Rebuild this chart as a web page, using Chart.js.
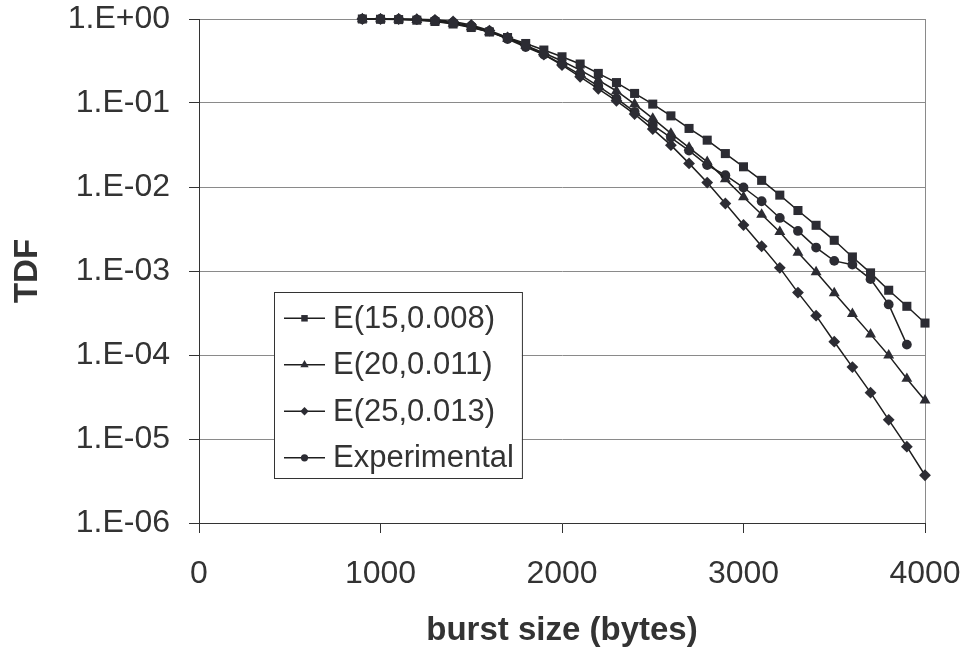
<!DOCTYPE html>
<html><head><meta charset="utf-8">
<script src="https://cdn.jsdelivr.net/npm/chart.js@4.4.1/dist/chart.umd.min.js"></script>
<style>html,body{margin:0;padding:0;background:#fff;}#wrap{width:963px;height:651px;}</style>
</head><body><div id="wrap"><canvas id="c" width="963" height="651"></canvas></div>
<script>
const burstSizes = [900,1000,1100,1200,1300,1400,1500,1600,1700,1800,1900,2000,2100,2200,2300,2400,2500,2600,2700,2800,2900,3000,3100,3200,3300,3400,3500,3600,3700,3800,3900,4000];
const seriesNames = ['E(15,0.008)','E(20,0.011)','E(25,0.013)','Experimental'];
const tdfE15 = [1.0,0.992,0.984,0.968,0.934,0.872,0.792,0.70,0.602,0.511,0.427,0.355,0.291,0.225,0.175,0.130,0.097,0.0703,0.0498,0.0361,0.025,0.0174,0.012,0.008,0.00525,0.0035,0.00232,0.00147,0.00095,0.00059,0.00038,0.00024];
const tdfE20 = [1.0,0.995,0.992,0.978,0.947,0.884,0.803,0.70,0.586,0.483,0.394,0.316,0.2466,0.1875,0.139,0.097,0.0655,0.0434,0.0294,0.0199,0.0124,0.0076,0.0047,0.00292,0.00166,0.00097,0.000547,0.00031,0.000176,0.0000989,0.0000522,0.0000288];
const tdfE25 = [1.0,1.0,1.0,0.995,0.978,0.934,0.848,0.729,0.602,0.483,0.3775,0.283,0.205,0.1476,0.1062,0.0738,0.0489,0.0315,0.0191,0.0113,0.00636,0.00353,0.00197,0.00109,0.000553,0.000294,0.000144,0.0000718,0.0000356,0.0000169,0.0000081,0.0000037];
const tdfExperimental = [1.0,1.0,0.995,0.984,0.96,0.908,0.825,0.719,0.578,0.464,0.3775,0.291,0.218,0.159,0.1135,0.0786,0.0546,0.0387,0.0271,0.0182,0.0138,0.00986,0.00677,0.00428,0.0030,0.0019,0.00132,0.00119,0.00080,0.00040,0.000133,null];
const yTickValues = [1,1e-1,1e-2,1e-3,1e-4,1e-5,1e-6];
const xTickStep = 1000;

const FONT = "'Liberation Sans', Arial, sans-serif";
const INK = '#333333';
const MARK = '#2c2c33';

function toPoints(vals){
  const out=[];
  vals.forEach((v,i)=>{ if(v!==null) out.push({x:burstSizes[i], y:v}); });
  return out;
}
function fmtExp(v){
  const e = Math.round(Math.log10(v));
  const s = e>=0?'+':'-';
  const a = Math.abs(e);
  return '1.E'+s+(a<10?'0':'')+a;
}
function zeroPad(s){ s.paddingTop=0; s.paddingBottom=0; s.paddingLeft=0; s.paddingRight=0; }
const styles = [
  {pointStyle:'rect', r:6.4, lr:4.6},
  {pointStyle:'triangle', r:6.3, lr:4.8},
  {pointStyle:'rectRot', r:5.9, lr:4.2},
  {pointStyle:'circle', r:4.9, lr:3.6}
];
const allVals = [tdfE15, tdfE20, tdfE25, tdfExperimental];
const datasets = allVals.map((vals,i)=>({
  label: seriesNames[i],
  data: toPoints(vals),
  borderColor:'#1e1e1e',
  borderWidth:1.5,
  backgroundColor:MARK,
  pointBackgroundColor:MARK,
  pointBorderColor:MARK,
  pointBorderWidth:0,
  pointStyle:styles[i].pointStyle,
  pointRadius:styles[i].r,
  tension:0,
  clip:false
}));

const frame = {
  id:'frame',
  beforeDatasetsDraw(chart){
    const a = chart.chartArea, ctx = chart.ctx;
    ctx.save();
    ctx.strokeStyle='#8a8a8a'; ctx.lineWidth=1;
    ctx.beginPath(); ctx.moveTo(Math.round(a.right)+0.5, a.top); ctx.lineTo(Math.round(a.right)+0.5, a.bottom); ctx.stroke();
    ctx.restore();
  }
};

const legendBox = {
  id:'legendBox',
  afterDraw(chart){
    const ctx = chart.ctx;
    const left=274, top=292, bottom=478, rowStart=318.3, rowH=46.5;
    const lineX0=284, lineX1=325, textX=333;
    ctx.save();
    ctx.font = '31px '+FONT;
    let maxW=0;
    seriesNames.forEach(n=>{maxW=Math.max(maxW, ctx.measureText(n).width);});
    const right = textX + maxW + 8;
    ctx.fillStyle='#fff';
    ctx.fillRect(left, top, right-left, bottom-top);
    ctx.strokeStyle='#333'; ctx.lineWidth=1;
    ctx.strokeRect(left+0.5, top+0.5, right-left, bottom-top);
    seriesNames.forEach((n,i)=>{
      const y = rowStart + i*rowH;
      ctx.strokeStyle='#1e1e1e'; ctx.lineWidth=1.4;
      ctx.beginPath(); ctx.moveTo(lineX0,y); ctx.lineTo(lineX1,y); ctx.stroke();
      ctx.fillStyle=MARK; ctx.strokeStyle=MARK;
      Chart.helpers.drawPoint(ctx, {pointStyle:styles[i].pointStyle, radius:styles[i].lr, rotation:0, borderWidth:0}, (lineX0+lineX1)/2, y);
      ctx.fillStyle=INK;
      ctx.textAlign='left'; ctx.textBaseline='middle';
      ctx.fillText(n, textX, y+1);
    });
    ctx.restore();
  }
};

new Chart(document.getElementById('c'), {
  type:'line',
  data:{datasets},
  options:{
    responsive:false,
    animation:false,
    layout:{padding:{top:19,right:38,left:0,bottom:0}},
    plugins:{legend:{display:false}, tooltip:{enabled:false}},
    scales:{
      x:{
        type:'linear', min:0, max:4000,
        ticks:{stepSize:xTickStep, color:INK, font:{family:FONT,size:32}, padding:22, maxRotation:0, autoSkip:false, callback:v=>String(v)},
        grid:{drawOnChartArea:false, drawTicks:true, tickLength:10, color:INK},
        border:{color:INK, width:1},
        title:{display:true, text:'burst size (bytes)', color:INK, font:{family:FONT,size:33,weight:'bold'}, padding:{top:0,bottom:0}},
        afterFit(s){ s.height = 128; zeroPad(s); }
      },
      y:{
        type:'logarithmic', min:1e-6, max:1,
        afterBuildTicks(s){ s.ticks = yTickValues.map(v=>({value:v})); },
        ticks:{color:INK, font:{family:FONT,size:32}, padding:19, autoSkip:false, callback:v=>fmtExp(v)},
        grid:{color:'#8a8a8a', tickColor:INK, tickLength:10, drawTicks:true},
        border:{color:INK, width:1},
        title:{display:true, text:'TDF', color:INK, font:{family:FONT,size:33,weight:'bold'}, padding:{top:8,bottom:0}},
        afterFit(s){ s.width = 199; zeroPad(s); }
      }
    }
  },
  plugins:[frame, legendBox]
});
</script></body></html>
